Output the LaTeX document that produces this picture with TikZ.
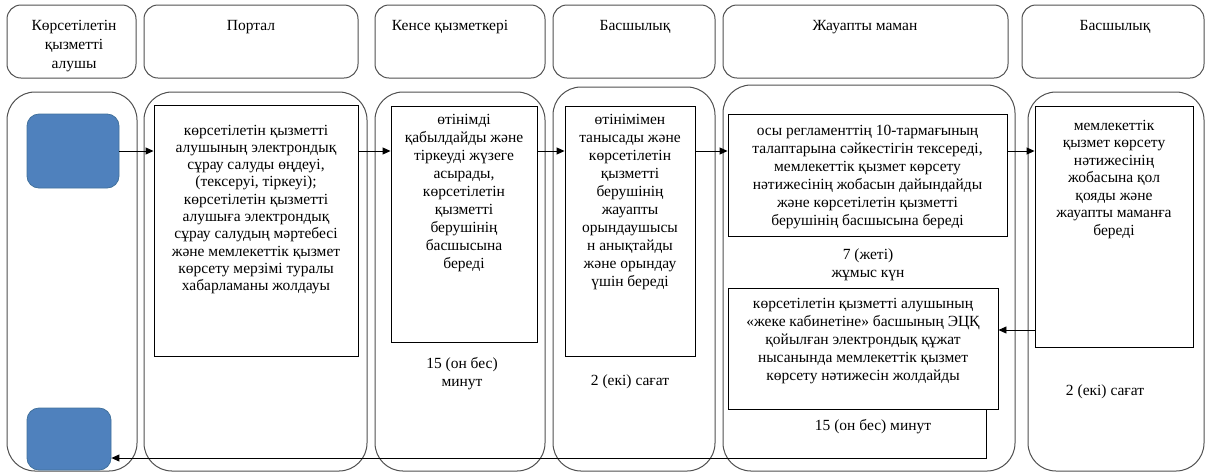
\documentclass[tikz,border=0pt]{standalone}
\usepackage{fontspec}
\setmainfont{Liberation Serif}
\usetikzlibrary{arrows.meta}
\definecolor{laneline}{HTML}{505050}
\definecolor{iconfill}{HTML}{4F81BD}
\definecolor{icondraw}{HTML}{41719C}
\tikzset{
  hdr/.style={draw=laneline, rounded corners=14pt, line width=1pt},
  lane/.style={draw=laneline, rounded corners=28pt, line width=1pt},
  actbox/.style={draw=black, line width=0.9pt},
  iconbox/.style={draw=icondraw, fill=iconfill, rounded corners=12pt, line width=0.8pt},
  txt/.style={align=center, anchor=north, inner sep=0pt, font=\fontsize{15.5}{18}\selectfont},
  flow/.style={-{Triangle[length=8pt,width=7pt]}, line width=0.9pt}
}

\begin{document}
\begin{tikzpicture}[x=1pt,y=-1pt]
\useasboundingbox (0,0) rectangle (1206,475);
\node[hdr, minimum width=129pt, minimum height=73pt] (h1) at (71.5,41.5) {};
\node[hdr, minimum width=214pt, minimum height=73pt] (h2) at (251,41.5) {};
\node[hdr, minimum width=170pt, minimum height=73pt] (h3) at (460,41.5) {};
\node[hdr, minimum width=162pt, minimum height=73pt] (h4) at (634,41.5) {};
\node[hdr, minimum width=285pt, minimum height=73pt] (h5) at (865.5,41.5) {};
\node[hdr, minimum width=182pt, minimum height=73pt] (h6) at (1113,41.5) {};
\node[txt, font=\fontsize{15.5}{19}\selectfont] (h1t) at (74,20) {Көрсетілетін\\қызметті\\алушы};
\node[txt] (h2t) at (251,20) {Портал};
\node[txt] (h3t) at (450,20) {Кенсе қызметкері};
\node[txt] (h4t) at (635,20) {Басшылық};
\node[txt] (h5t) at (865,20) {Жауапты маман};
\node[txt] (h6t) at (1115,20) {Басшылық};

\node[lane, minimum width=130pt, minimum height=379pt] (l1) at (72,281.5) {};
\node[lane, minimum width=223pt, minimum height=379pt] (l2) at (255.5,281.5) {};
\node[lane, minimum width=170pt, minimum height=379pt] (l3) at (460,281.5) {};
\node[lane, minimum width=162pt, minimum height=384pt] (l4) at (634,279) {};
\node[lane, minimum width=292pt, minimum height=386pt] (l5) at (869,278) {};
\node[lane, minimum width=176pt, minimum height=379pt] (l6) at (1116,281.5) {};

\node[iconbox, minimum width=92pt, minimum height=74pt] (bt) at (73,151) {};
\node[iconbox, minimum width=84pt, minimum height=62pt] (bb) at (69,439) {};

\node[actbox, minimum width=204pt, minimum height=251pt] (pr) at (256,230.5) {};
\node[actbox, minimum width=146pt, minimum height=236pt] (kr) at (464,224) {};
\node[actbox, minimum width=130pt, minimum height=250pt] (br) at (630,231) {};
\node[actbox, minimum width=279pt, minimum height=122pt] (zr1) at (867.5,175) {};
\node[actbox, minimum width=270pt, minimum height=121pt] (zr2) at (863,348.5) {};
\node[actbox, minimum width=158pt, minimum height=241pt] (b2r) at (1114,226.5) {};

\node[txt, font=\fontsize{15.5}{17.3}\selectfont] (prt) at ([yshift=-20pt]pr.north)
  {көрсетілетін қызметті\\алушының электрондық\\сұрау салуды өңдеуі,\\(тексеруі, тіркеуі);\\көрсетілетін қызметті\\алушыға электрондық\\сұрау салудың мәртебесі\\және мемлекеттік қызмет\\көрсету мерзімі туралы\\хабарламаны жолдауы};
\node[txt] (krt) at ([yshift=-8pt]kr.north)
  {өтінімді\\қабылдайды және\\тіркеуді жүзеге\\асырады,\\көрсетілетін\\қызметті\\берушінің\\басшысына\\береді};
\node[txt] (brt) at ([yshift=-8pt]br.north)
  {өтінімімен\\танысады және\\көрсетілетін\\қызметті\\берушінің\\жауапты\\орындаушысы\\н анықтайды\\және орындау\\үшін береді};
\node[txt] (zr1t) at ([yshift=-11pt]zr1.north)
  {осы регламенттің 10-тармағының\\талаптарына сәйкестігін тексереді,\\мемлекеттік қызмет көрсету\\нәтижесінің жобасын дайындайды\\және көрсетілетін қызметті\\берушінің басшысына береді};
\node[txt] (zr2t) at ([yshift=-10pt]zr2.north)
  {көрсетілетін қызметті алушының\\«жеке кабинетіне» басшының ЭЦҚ\\қойылған электрондық құжат\\нысанында мемлекеттік қызмет\\көрсету нәтижесін жолдайды};
\node[txt, font=\fontsize{15.5}{17.5}\selectfont] (b2rt) at ([yshift=-14pt]b2r.north)
  {мемлекеттік\\қызмет көрсету\\нәтижесінің\\жобасына қол\\қояды және\\жауапты маманға\\береді};

\node[txt, anchor=center] (t1) at (462,374) {15 (он бес)\\минут};
\node[txt, anchor=center] (t2) at (630,382) {2 (екі) сағат};
\node[txt, anchor=center] (t3) at (868,265) {7 (жеті)\\жұмыс күн};
\node[txt, anchor=center] (t4) at (873,427) {15 (он бес) минут};
\node[txt, anchor=center] (t5) at (1105,392) {2 (екі) сағат};

\coordinate (fwd) at (0,151);
\coordinate (back) at (0,330);
\coordinate (ret) at (986,458);
\draw[flow] (bt.east) -- (bt.east -| pr.west);
\foreach \a/\b in {pr/kr,kr/br,br/zr1,zr1/b2r}
    \draw[flow] (\a.east |- fwd) -- (\b.west |- fwd);
\draw[flow] (b2r.west |- back) -- (zr2.east |- back);
\draw[flow] (zr2.south -| ret) -- (ret) -- (bb.east |- ret);
\end{tikzpicture}
\end{document}
